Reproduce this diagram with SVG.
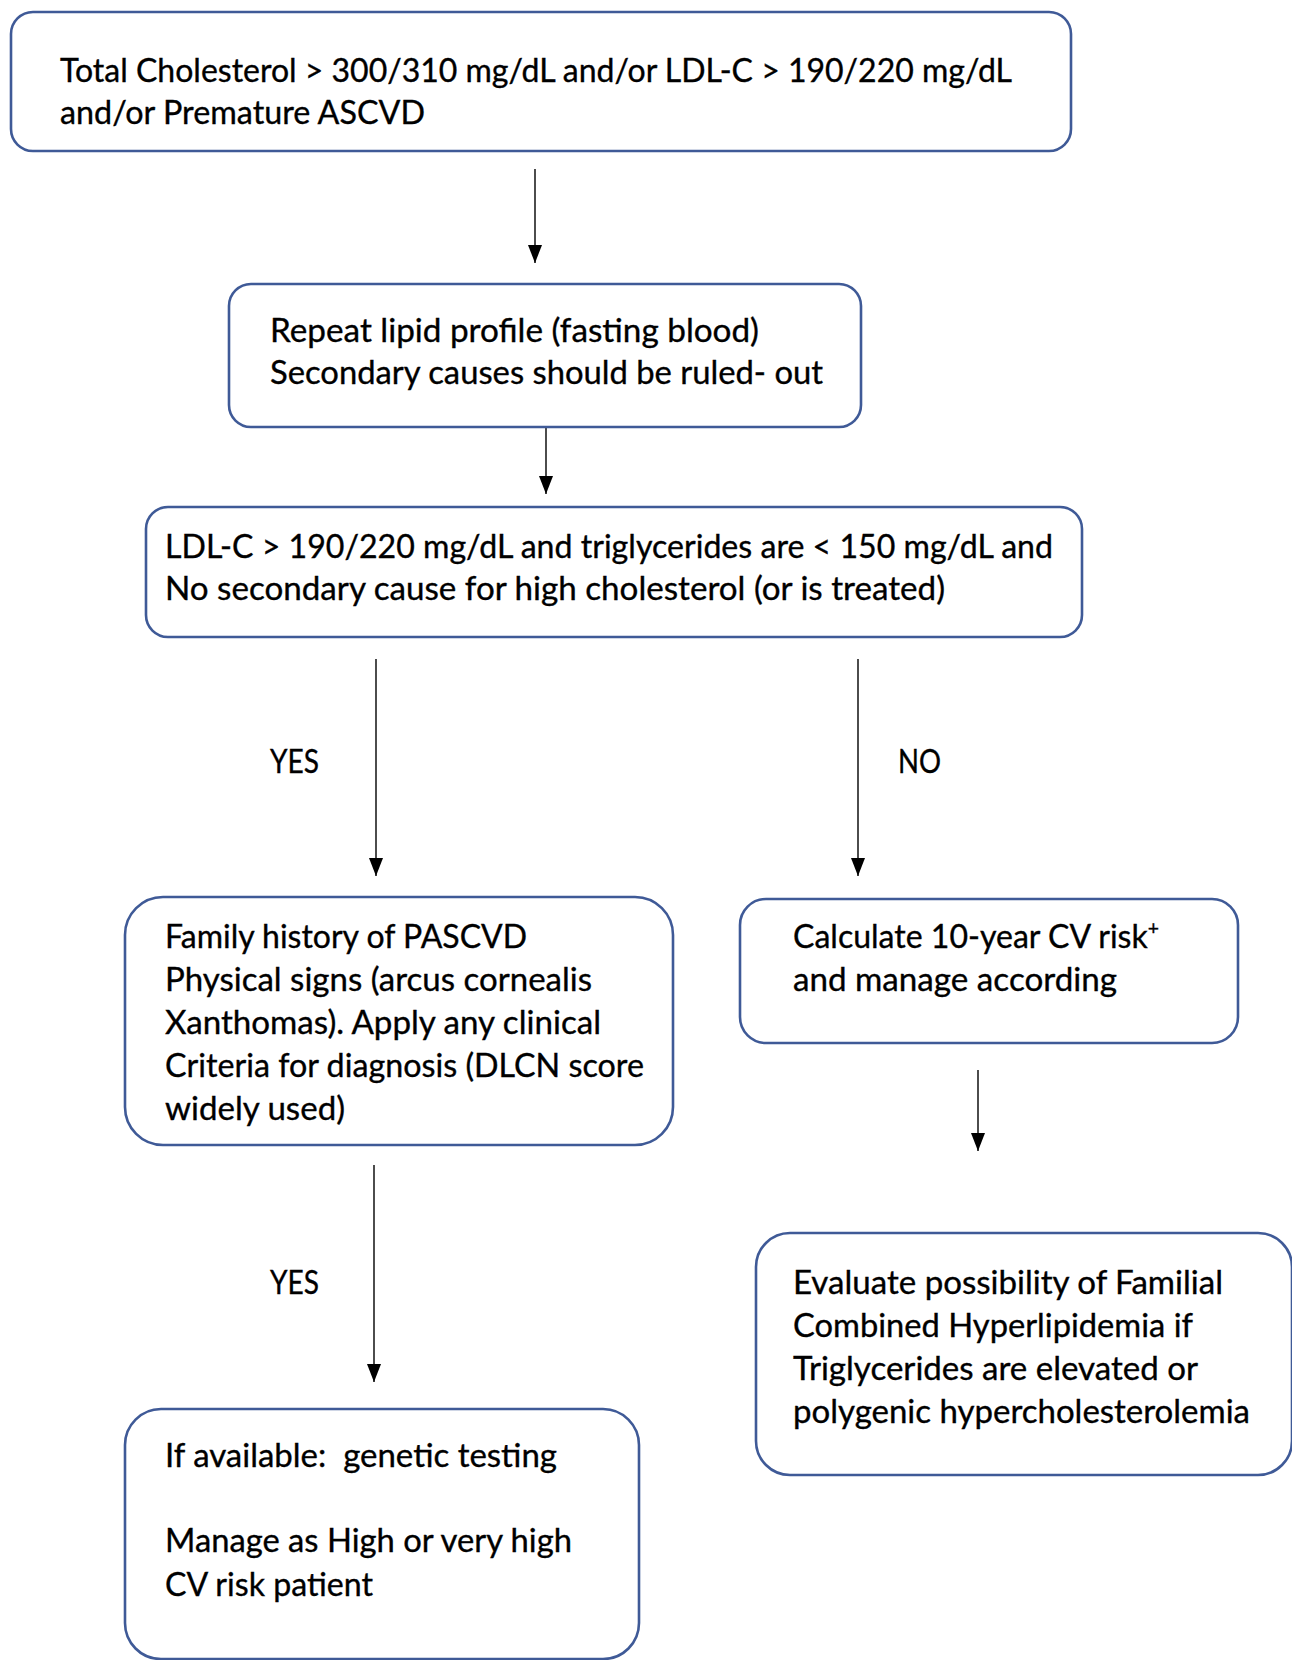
<svg xmlns="http://www.w3.org/2000/svg" width="1292" height="1660" viewBox="0 0 1292 1660">
<defs>
<style>
.box{fill:#ffffff;stroke:#3F5A97;stroke-width:2.6}
.t{font-family:Lato,"Open Sans","Liberation Sans",sans-serif;font-size:33px;fill:#000000;stroke:#000000;stroke-width:0.35}
.c{stroke:#000000;stroke-width:1.4;fill:none;marker-end:url(#ah)}
</style>
<marker id="ah" viewBox="0 0 18 14" refX="18" refY="7" markerWidth="18" markerHeight="14" markerUnits="userSpaceOnUse" orient="auto">
<path d="M0,0 L18,7 L0,14 z" fill="#000000"/>
</marker>
</defs>
<rect width="1292" height="1660" fill="#ffffff"/>
<g id="connectors">
<line class="c" x1="535" y1="169" x2="535" y2="263"/>
<line class="c" x1="546" y1="427" x2="546" y2="494"/>
<line class="c" x1="376" y1="659" x2="376" y2="876"/>
<line class="c" x1="858" y1="659" x2="858" y2="876"/>
<line class="c" x1="978" y1="1070" x2="978" y2="1151"/>
<line class="c" x1="374" y1="1165" x2="374" y2="1382"/>
<text class="t" x="270" y="773" textLength="49" lengthAdjust="spacingAndGlyphs">YES</text>
<text class="t" x="898" y="773" textLength="43" lengthAdjust="spacingAndGlyphs">NO</text>
<text class="t" x="270" y="1294" textLength="49" lengthAdjust="spacingAndGlyphs">YES</text>
</g>
<g id="n1">
<rect class="box" x="11" y="12" width="1060" height="139" rx="22"/>
<text class="t" x="60" y="82" textLength="952" lengthAdjust="spacingAndGlyphs">Total Cholesterol &gt; 300/310 mg/dL and/or LDL-C &gt; 190/220 mg/dL</text>
<text class="t" x="60" y="124" textLength="365" lengthAdjust="spacingAndGlyphs">and/or Premature ASCVD</text>
</g>
<g id="n2">
<rect class="box" x="229" y="284" width="632" height="143" rx="22"/>
<text class="t" x="270" y="342" textLength="489" lengthAdjust="spacingAndGlyphs">Repeat lipid profile (fasting blood)</text>
<text class="t" x="270" y="384" textLength="553" lengthAdjust="spacingAndGlyphs">Secondary causes should be ruled- out</text>
</g>
<g id="n3">
<rect class="box" x="146" y="507" width="936" height="130" rx="22"/>
<text class="t" x="165" y="558" textLength="888" lengthAdjust="spacingAndGlyphs">LDL-C &gt; 190/220 mg/dL and triglycerides are &lt; 150 mg/dL and</text>
<text class="t" x="165" y="600" textLength="780" lengthAdjust="spacingAndGlyphs">No secondary cause for high cholesterol (or is treated)</text>
</g>
<g id="n4">
<rect class="box" x="125" y="897" width="548" height="248" rx="38"/>
<text class="t" x="165" y="948" textLength="362" lengthAdjust="spacingAndGlyphs">Family history of PASCVD</text>
<text class="t" x="165" y="991" textLength="427" lengthAdjust="spacingAndGlyphs">Physical signs (arcus cornealis</text>
<text class="t" x="165" y="1034" textLength="436" lengthAdjust="spacingAndGlyphs">Xanthomas). Apply any clinical</text>
<text class="t" x="165" y="1077" textLength="479" lengthAdjust="spacingAndGlyphs">Criteria for diagnosis (DLCN score</text>
<text class="t" x="165" y="1120" textLength="180" lengthAdjust="spacingAndGlyphs">widely used)</text>
</g>
<g id="n5">
<rect class="box" x="740" y="899" width="498" height="144" rx="26"/>
<text class="t" x="793" y="948" textLength="366" lengthAdjust="spacingAndGlyphs">Calculate 10-year CV risk<tspan style="font-size:20px" dy="-13">+</tspan></text>
<text class="t" x="793" y="991" textLength="324" lengthAdjust="spacingAndGlyphs">and manage according</text>
</g>
<g id="n6">
<rect class="box" x="756" y="1233" width="536" height="242" rx="34"/>
<text class="t" x="793" y="1294" textLength="430" lengthAdjust="spacingAndGlyphs">Evaluate possibility of Familial</text>
<text class="t" x="793" y="1337" textLength="400" lengthAdjust="spacingAndGlyphs">Combined Hyperlipidemia if</text>
<text class="t" x="793" y="1380" textLength="405" lengthAdjust="spacingAndGlyphs">Triglycerides are elevated or</text>
<text class="t" x="793" y="1423" textLength="457" lengthAdjust="spacingAndGlyphs">polygenic hypercholesterolemia</text>
</g>
<g id="n7">
<rect class="box" x="125" y="1409" width="514" height="250" rx="36"/>
<text class="t" x="165" y="1467" textLength="392" lengthAdjust="spacingAndGlyphs" xml:space="preserve">If available:  genetic testing</text>
<text class="t" x="165" y="1552" textLength="407" lengthAdjust="spacingAndGlyphs">Manage as High or very high</text>
<text class="t" x="165" y="1596" textLength="208" lengthAdjust="spacingAndGlyphs">CV risk patient</text>
</g>
</svg>
